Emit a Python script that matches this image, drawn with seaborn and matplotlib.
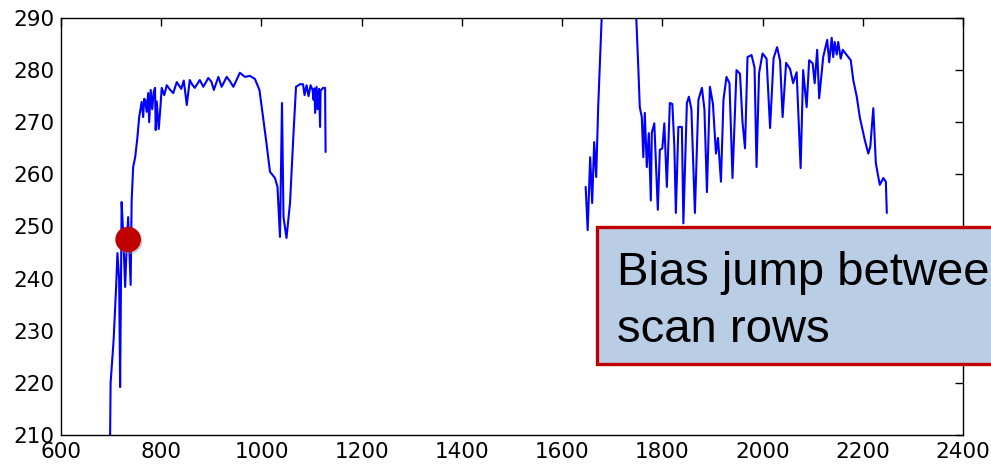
import numpy as np
import pandas as pd
import matplotlib
matplotlib.use("Agg")
import matplotlib.pyplot as plt
import matplotlib.patheffects as pe
from matplotlib.patches import Rectangle
import seaborn as sns

# ---- data ----
seg1_x = [698, 699, 705, 710, 712.6, 716, 718, 721, 724, 728, 731, 734, 739, 741, 744, 748,
          752, 756, 761, 764, 766, 768, 771, 774, 776, 779, 782, 785, 787.6, 789, 791, 795,
          797.6, 801, 806, 811, 818, 824, 831, 840, 845, 851, 857, 862, 867, 877, 884, 894,
          900, 905, 914, 920.6, 930.6, 937, 944, 957, 967, 977, 987, 996, 1004, 1010, 1017,
          1027, 1032, 1037, 1041, 1044, 1050, 1057, 1064, 1069, 1077, 1083, 1086, 1090, 1094,
          1098, 1102, 1104, 1106, 1107, 1110, 1112, 1115, 1117, 1118, 1123, 1127, 1128]
seg1_y = [209.6, 220, 228.2, 238.4, 244.9, 240, 219.2, 254.7, 248.7, 238.4, 246, 251.8,
          238.8, 255, 261.4, 263.3, 266.6, 271, 273.9, 271, 274.5, 274.3, 272, 275.6, 270,
          276.2, 272.5, 275.8, 276.6, 268.5, 274, 268.7, 271.8, 276.6, 275.2, 277.1, 276.2,
          275.6, 277.7, 276.4, 278, 273.3, 278.1, 277.2, 276.6, 278.1, 276.8, 278.5, 277.8,
          276.2, 278.7, 276.8, 278.7, 277.9, 276.8, 279.5, 278.7, 278.9, 278.3, 276.2, 270.4,
          266, 260.5, 259.3, 257.6, 248, 273.7, 251.8, 247.8, 254.5, 267.9, 276.8, 277.3,
          277.3, 275.2, 277.1, 275, 277.1, 276.2, 274.3, 276.5, 271.8, 276.8, 272.5, 276.4,
          269.1, 276, 276.6, 276.6, 264.3]

seg2_x = [1647, 1651, 1656, 1660, 1664, 1668, 1672, 1679, 1700, 1730, 1748, 1752, 1755, 1759,
          1762, 1765, 1769, 1773, 1777, 1779, 1784, 1791, 1795, 1800, 1804, 1809, 1815, 1820,
          1824, 1827, 1832, 1839, 1842, 1849, 1853, 1858, 1865, 1872, 1879, 1884, 1889, 1895,
          1901, 1907, 1911, 1917, 1922, 1928, 1934, 1940, 1948, 1955, 1960, 1965, 1970, 1978,
          1984, 1988, 1993, 2000, 2008, 2015, 2022, 2029, 2035, 2040, 2047, 2055, 2061, 2068,
          2076, 2081, 2088, 2093, 2100, 2104, 2109, 2113, 2121, 2129, 2133, 2138, 2141, 2144,
          2148, 2151, 2156, 2160, 2168, 2176, 2181, 2188, 2194, 2201, 2204, 2211, 2215, 2221,
          2226, 2231, 2234, 2241, 2246, 2248]
seg2_y = [257.6, 249.3, 263.3, 254.5, 266.2, 259.5, 272.9, 290.2, 312, 312, 290, 280.6,
          272.9, 271, 263.3, 271.8, 261.4, 267.9, 255, 268, 269.8, 253.2, 264.7, 265, 269.8,
          257.6, 273.7, 273.5, 265.3, 252.6, 269.1, 269.1, 250.6, 273.7, 274.9, 272.5, 252.6,
          274.3, 276.6, 272.5, 256.6, 276.8, 273.5, 264, 267, 258.6, 274.3, 278.7, 277.5,
          259.3, 280, 279.3, 270, 265, 282.5, 282.9, 280.5, 261.4, 279.4, 283.2, 282.2, 268.9,
          282.3, 284.4, 281.8, 271, 281.4, 280.2, 277.5, 279.6, 261.2, 280, 272.9, 281.9,
          281.3, 277.5, 283.9, 274.6, 282.5, 285.8, 281.5, 286.2, 282.5, 285.4, 283, 285.4,
          282.2, 283.9, 282.9, 281.9, 278.1, 274.9, 271, 267.9, 266.6, 264, 265.3, 272.7, 262.2,
          259.5, 258, 259.3, 258.6, 252.6]

marker_x = [734]
marker_y = [247.5]

x_ticks = [600, 800, 1000, 1200, 1400, 1600, 1800, 2000, 2200, 2400]
y_ticks = [210, 220, 230, 240, 250, 260, 270, 280, 290]

callout_lines = ["Bias jump between", "scan rows"]

df = pd.DataFrame({
    "x": seg1_x + seg2_x,
    "y": seg1_y + seg2_y,
    "seg": [1] * len(seg1_x) + [2] * len(seg2_x),
})

sns.set_style("white")
plt.rcParams["font.family"] = ["DejaVu Sans"]

fig = plt.figure(figsize=(9.91, 4.68), dpi=100)
ax = fig.add_axes([61 / 991, 1 - 435 / 468, (963 - 61) / 991, (435 - 18) / 468])

sns.lineplot(data=df, x="x", y="y", units="seg", estimator=None, sort=False,
             color="#0000ff", linewidth=1.5, ax=ax, legend=False)

ax.scatter(marker_x, marker_y, s=340, color="#c00000", zorder=5, linewidths=0,
           path_effects=[pe.SimplePatchShadow(offset=(1.2, -1.2), shadow_rgbFace="#999999", alpha=0.45),
                         pe.Normal()])

ax.set_xlim(600, 2400)
ax.set_ylim(210, 290)
ax.set_xticks(x_ticks)
ax.set_yticks(y_ticks)
ax.set_xticklabels([str(t) for t in x_ticks])
ax.set_yticklabels([str(t) for t in y_ticks])
ax.set_xlabel("")
ax.set_ylabel("")
ax.tick_params(direction="in", length=6, width=1, top=True, right=True,
               labelsize=15.5, colors="black", pad=5)
for s in ax.spines.values():
    s.set_color("black")
    s.set_linewidth(1.0)
    s.set_visible(True)

# callout box (cut off at the right edge, as in the reference)
rect = Rectangle((597 / 991, 1 - 364 / 468), 0.45, (364 - 227) / 468,
                 transform=fig.transFigure, facecolor="#b9cde5", edgecolor="#c00000",
                 linewidth=2.4, clip_on=False, zorder=10)
fig.add_artist(rect)
fig.text(617 / 991, 1 - 285 / 468, callout_lines[0], fontsize=34, family="Liberation Sans",
         va="baseline", ha="left", color="black", zorder=11)
fig.text(617 / 991, 1 - 342 / 468, callout_lines[1], fontsize=34, family="Liberation Sans",
         va="baseline", ha="left", color="black", zorder=11)

fig.savefig("out.png", dpi=100)
